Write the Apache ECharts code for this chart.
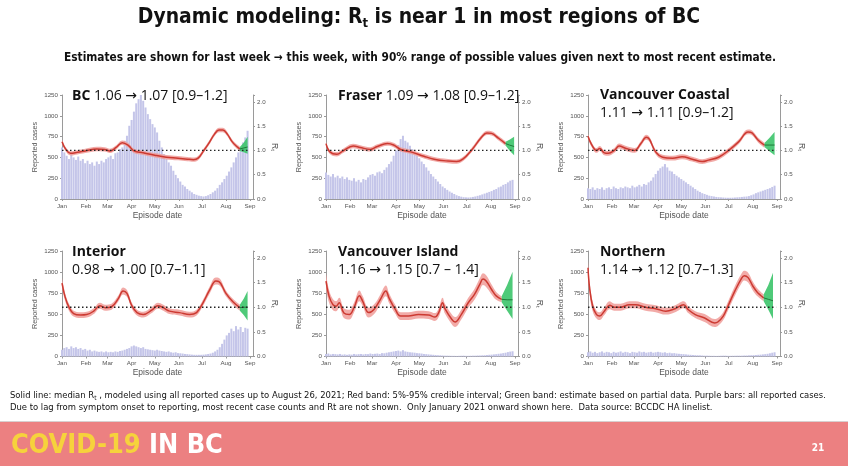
<!DOCTYPE html>
<html><head><meta charset="utf-8">
<script src="https://cdn.jsdelivr.net/npm/echarts@6/dist/echarts.min.js"></script>
<style>html,body{margin:0;padding:0;background:#fff}#c{width:848px;height:466px}</style>
</head><body><div id="c"></div>
<script>
// ---------------- DATA ----------------
const monthStarts = [0, 31, 59, 90, 120, 151, 181, 212, 243];
const monthLabels = ['Jan', 'Feb', 'Mar', 'Apr', 'May', 'Jun', 'Jul', 'Aug', 'Sep'];
const barDays = Array.from({length: 81}, (_, k) => k * 3); // bar positions (days since Jan 1, 2021)

const regionNames = ['BC', 'Fraser', 'Vancouver Coastal', 'Interior', 'Vancouver Island', 'Northern'];
const regionEstimates = ['1.06 → 1.07 [0.9–1.2]', '1.09 → 1.08 [0.9–1.2]', '1.11 → 1.11 [0.9–1.2]',
  '0.98 → 1.00 [0.7–1.1]', '1.16 → 1.15 [0.7 – 1.4]', '1.14 → 1.12 [0.7–1.3]'];

const bcCases = [620,560,520,480,540,500,470,510,460,480,430,460,420,440,400,450,420,460,440,480,500,520,480,550,560,600,620,700,760,880,950,1050,1150,1200,1250,1180,1100,1020,960,900,860,800,700,620,540,480,440,400,340,290,250,210,170,150,120,100,80,60,50,40,35,30,35,45,60,80,100,130,170,200,240,280,330,380,440,500,560,620,680,740,820];
const fraserCases = [320,290,270,300,260,280,250,270,240,260,230,220,250,210,230,200,240,230,260,290,300,280,320,330,310,350,380,420,450,520,580,650,720,760,700,680,640,600,560,520,490,450,420,380,340,300,270,240,210,180,150,130,110,90,75,60,45,35,28,22,20,18,20,25,30,38,45,55,65,75,85,95,110,120,140,150,170,180,200,220,230];
const vchCases = [130,120,140,110,130,120,140,110,130,140,120,150,130,120,140,130,150,140,130,160,140,150,170,150,180,170,200,220,260,300,340,370,390,420,380,340,330,300,280,260,240,220,200,180,160,140,120,100,85,70,60,50,40,35,30,25,22,20,18,16,15,15,16,18,20,22,25,28,30,35,45,55,70,80,90,100,110,120,130,145,160];
const interiorCases = [80,100,110,90,120,100,110,90,100,80,90,70,80,60,70,60,55,60,50,60,50,55,50,60,55,65,70,80,90,100,120,130,120,110,100,110,90,85,80,75,70,80,70,65,60,55,60,50,45,50,40,38,35,30,28,25,22,20,20,20,20,22,25,30,35,45,60,80,110,150,200,250,280,330,300,360,320,350,290,340,330];
const islandCases = [30,35,25,30,28,25,30,22,25,20,25,22,30,25,28,30,25,30,28,35,30,32,35,30,40,38,45,50,55,60,65,70,60,75,60,55,50,48,45,40,38,35,30,28,25,22,20,18,15,14,12,10,10,9,8,8,7,8,9,10,8,8,9,10,10,12,12,14,15,18,20,22,25,28,32,35,40,45,52,58,62];
const northernCases = [50,60,45,55,40,50,60,45,55,50,40,55,45,50,60,45,55,50,40,55,50,45,60,50,55,45,50,55,45,50,55,50,45,50,40,45,38,40,35,32,30,28,25,22,20,18,16,15,14,12,10,10,9,8,8,7,8,9,10,10,8,8,9,9,10,10,10,12,12,14,15,16,18,20,22,25,28,32,38,45,50];

// Rt median (red) knots: day, median, half width of 5-95% band
const bcRtDays = [0,5,11,20,30,45,55,62,70,78,86,93,105,120,135,150,162,170,176,183,190,197,203,208,214,220,226,230];
const bcRtMid = [1.18,1.02,0.94,0.96,0.99,1.03,1.02,0.99,1.06,1.16,1.10,0.99,0.95,0.90,0.86,0.84,0.82,0.81,0.84,0.99,1.15,1.33,1.42,1.42,1.33,1.18,1.08,1.03];
const bcRtHalf = 0.045;
const fraserRtDays = [0,5,14,22,35,44,57,66,79,87,96,109,126,139,157,168,176,187,200,207,213,222,231];
const fraserRtMid = [1.14,0.97,0.92,0.99,1.09,1.06,1.02,1.08,1.14,1.11,1.02,0.97,0.88,0.82,0.78,0.77,0.82,1.0,1.27,1.36,1.35,1.25,1.14];
const fraserRtHalf = 0.045;
const vchRtDays = [0,4,11,15,21,26,34,40,49,60,68,75,79,87,96,109,121,134,147,155,168,181,194,206,211,219,227];
const vchRtMid = [1.29,1.14,1.0,1.04,0.95,0.94,1.0,1.09,1.04,1.0,1.14,1.27,1.23,0.97,0.86,0.84,0.87,0.82,0.77,0.80,0.86,1.0,1.18,1.38,1.36,1.21,1.11];
const vchRtHalf = 0.05;
const interiorRtDays = [0,4,9,15,24,32,41,49,56,64,73,79,84,90,97,105,116,124,131,139,152,165,174,182,191,199,203,212,221,230];
const interiorRtMid = [1.49,1.21,1.0,0.87,0.84,0.85,0.92,1.03,0.99,1.01,1.18,1.33,1.28,1.04,0.89,0.85,0.94,1.03,0.99,0.92,0.89,0.85,0.89,1.08,1.35,1.53,1.52,1.28,1.11,0.99];
const interiorRtHalf = [0.1,0.08,0.07,0.06,0.06,0.06,0.06,0.06,0.06,0.06,0.06,0.07,0.07,0.06,0.06,0.06,0.06,0.06,0.06,0.06,0.06,0.06,0.06,0.06,0.07,0.07,0.07,0.06,0.06,0.06];
const islandRtDays = [0,4,9,13,17,23,30,36,43,47,55,62,70,77,81,89,96,106,119,132,140,145,150,153,162,166,174,183,191,198,202,206,213,219,226];
const islandRtMid = [1.53,1.22,1.05,1.02,1.09,0.88,0.85,0.99,1.23,1.13,0.89,0.96,1.16,1.33,1.19,0.96,0.82,0.82,0.85,0.84,0.80,0.89,1.09,0.97,0.75,0.70,0.85,1.09,1.26,1.47,1.57,1.53,1.36,1.23,1.16];
const islandRtHalf = [0.16,0.13,0.11,0.1,0.1,0.1,0.1,0.1,0.11,0.1,0.1,0.1,0.1,0.11,0.1,0.09,0.08,0.08,0.08,0.08,0.08,0.09,0.1,0.1,0.1,0.1,0.1,0.1,0.11,0.12,0.12,0.12,0.1,0.08,0.06];
const northernRtDays = [0,2,6,11,15,21,28,34,42,53,61,74,87,100,112,123,129,138,150,163,167,174,180,189,197,201,206,212,218,226];
const northernRtMid = [1.8,1.4,1.02,0.85,0.82,0.92,1.04,1.0,1.0,1.05,1.05,1.0,0.97,0.92,0.97,1.05,0.95,0.85,0.78,0.68,0.70,0.82,1.02,1.33,1.57,1.64,1.60,1.43,1.30,1.19];
const northernRtHalf = [0.16,0.13,0.1,0.08,0.08,0.08,0.08,0.07,0.07,0.07,0.07,0.07,0.07,0.07,0.07,0.07,0.07,0.07,0.08,0.08,0.08,0.08,0.09,0.1,0.1,0.1,0.1,0.09,0.08,0.07];

// Green band (estimate based on partial data): day, median, low, high
const bcGreenDays = [230,235,240], bcGreenMid = [1.03,1.05,1.07], bcGreenLo = [0.99,0.96,0.93], bcGreenHi = [1.07,1.16,1.28];
const fraserGreenDays = [231,236,242], fraserGreenMid = [1.14,1.11,1.08], fraserGreenLo = [1.10,1.0,0.9], fraserGreenHi = [1.18,1.22,1.28];
const vchGreenDays = [227,233,240], vchGreenMid = [1.11,1.11,1.11], vchGreenLo = [1.07,0.99,0.9], vchGreenHi = [1.15,1.25,1.38];
const interiorGreenDays = [230,235,240], interiorGreenMid = [0.99,1.0,1.0], interiorGreenLo = [0.93,0.84,0.73], interiorGreenHi = [1.05,1.17,1.33];
const islandGreenDays = [226,233,240], islandGreenMid = [1.16,1.15,1.15], islandGreenLo = [1.10,0.93,0.76], islandGreenHi = [1.22,1.45,1.72];
const northernGreenDays = [226,232,238], northernGreenMid = [1.19,1.16,1.13], northernGreenLo = [1.12,0.95,0.76], northernGreenHi = [1.26,1.45,1.70];

const caseAxisMax = 1250, caseAxisStep = 250;
const rtAxisMax = 2.14, rtAxisStep = 0.5, rtThreshold = 1.0, thresholdEndDay = 242, axisEndDay = 247;

const titleText = 'Dynamic modeling: R{s|t} is near 1 in most regions of BC';
const subtitleText = 'Estimates are shown for last week → this week, with 90% range of possible values given next to most recent estimate.';
const noteLine1 = 'Solid line: median R{s|t} , modeled using all reported cases up to August 26, 2021; Red band: 5%-95% credible interval; Green band: estimate based on partial data. Purple bars: all reported cases.';
const noteLine2 = 'Due to lag from symptom onset to reporting, most recent case counts and Rt are not shown.  Only January 2021 onward shown here.  Data source: BCCDC HA linelist.';
const footerText1 = 'COVID-19', footerText2 = ' IN BC', pageNumber = '21';

// ---------------- LAYOUT / STYLE ----------------
const layout = [
  {left: 62, top: 95, width: 191, height: 104},
  {left: 326, top: 95, width: 192, height: 104},
  {left: 588, top: 95, width: 192, height: 104},
  {left: 62, top: 251, width: 191, height: 105.5},
  {left: 326, top: 251, width: 192, height: 105.5},
  {left: 588, top: 251, width: 192, height: 105.5}
];
const titlePos = [[72, 96], [338, 96], [600, 104], [72, 261.5], [338, 261.5], [600, 261.5]];

const ctx = document.createElement('canvas').getContext('2d');
function hasFont(f) {
  const s = 'abcdefghijklmnopqrstuvwxyz ABCDEFGHIJ 0123456789';
  ctx.font = '40px monospace'; const a = ctx.measureText(s).width;
  ctx.font = '40px "' + f + '", monospace'; const b = ctx.measureText(s).width;
  return Math.abs(a - b) > 0.5;
}
const NARROW = ['Liberation Sans Narrow', 'DejaVu Sans Condensed'].find(hasFont) || 'Open Sans';
function fit(text, weight, family, width) {
  ctx.font = weight + ' 100px "' + family + '"';
  return 100 * width / ctx.measureText(text.replace(/\{s\|t\}/g, 't')).width;
}
const AX = '"Liberation Sans", Arial, sans-serif';
const PF = '"Open Sans", "DejaVu Sans", sans-serif';
const NF = '"' + NARROW + '", "Open Sans", sans-serif';

const regions = [
  {cases: bcCases, d: bcRtDays, m: bcRtMid, h: bcRtHalf, gd: bcGreenDays, gm: bcGreenMid, gl: bcGreenLo, gh: bcGreenHi},
  {cases: fraserCases, d: fraserRtDays, m: fraserRtMid, h: fraserRtHalf, gd: fraserGreenDays, gm: fraserGreenMid, gl: fraserGreenLo, gh: fraserGreenHi},
  {cases: vchCases, d: vchRtDays, m: vchRtMid, h: vchRtHalf, gd: vchGreenDays, gm: vchGreenMid, gl: vchGreenLo, gh: vchGreenHi},
  {cases: interiorCases, d: interiorRtDays, m: interiorRtMid, h: interiorRtHalf, gd: interiorGreenDays, gm: interiorGreenMid, gl: interiorGreenLo, gh: interiorGreenHi},
  {cases: islandCases, d: islandRtDays, m: islandRtMid, h: islandRtHalf, gd: islandGreenDays, gm: islandGreenMid, gl: islandGreenLo, gh: islandGreenHi},
  {cases: northernCases, d: northernRtDays, m: northernRtMid, h: northernRtHalf, gd: northernGreenDays, gm: northernGreenMid, gl: northernGreenLo, gh: northernGreenHi}
];

const axisLineColor = '#9a9a9a', axisTextColor = '#555';
const xAxes = [], yAxes = [], series = [], grids = [];
const SM = 0.4;
// line data is given as [value, day] with encode {x:1, y:0} so stacking runs on the Rt (y) dimension
const ENC = {x: 1, y: 0};

function band(i, days, lo, hi, smooth, color, opacity, z, id) {
  return [
    {type: 'line', xAxisIndex: i, yAxisIndex: 2 * i + 1, stack: id, encode: ENC, data: days.map((d, k) => [lo[k], d]),
     smooth, symbol: 'none', lineStyle: {width: 0, opacity: 0}, silent: true, z},
    {type: 'line', xAxisIndex: i, yAxisIndex: 2 * i + 1, stack: id, encode: ENC, data: days.map((d, k) => [hi[k] - lo[k], d]),
     smooth, symbol: 'none', lineStyle: {width: 0, opacity: 0}, areaStyle: {color, opacity}, silent: true, z}
  ];
}

regions.forEach((R, i) => {
  const g = layout[i];
  grids.push({left: g.left, top: g.top, width: g.width, height: g.height, containLabel: false, outerBoundsMode: 'none'});
  xAxes.push({
    type: 'value', gridIndex: i, min: 0, max: axisEndDay,
    axisLine: {show: true, lineStyle: {color: axisLineColor, width: 1}},
    axisTick: {show: true, customValues: monthStarts, length: 2, lineStyle: {color: axisLineColor}},
    axisLabel: {customValues: monthStarts, formatter: v => monthLabels[monthStarts.indexOf(Math.round(v))] || '',
      fontSize: 6.2, color: axisTextColor, margin: 4, fontFamily: AX},
    splitLine: {show: false},
    name: 'Episode date', nameLocation: 'middle', nameGap: 12,
    nameTextStyle: {fontSize: 8.5, color: axisTextColor, fontFamily: AX}
  });
  yAxes.push({
    type: 'value', gridIndex: i, min: 0, max: caseAxisMax, interval: caseAxisStep, position: 'left',
    axisLine: {show: true, lineStyle: {color: axisLineColor, width: 1}},
    axisTick: {show: true, length: 2, lineStyle: {color: axisLineColor}},
    axisLabel: {fontSize: 6.2, color: axisTextColor, margin: 4, fontFamily: AX, formatter: v => String(v)},
    splitLine: {show: false},
    name: 'Reported cases', nameLocation: 'middle', nameGap: 23,
    nameTextStyle: {fontSize: 7.2, color: axisTextColor, fontFamily: AX}
  });
  yAxes.push({
    type: 'value', gridIndex: i, min: 0, max: rtAxisMax, interval: rtAxisStep, position: 'right',
    axisLine: {show: true, lineStyle: {color: axisLineColor, width: 1}},
    axisTick: {show: true, length: 2, lineStyle: {color: axisLineColor}},
    axisLabel: {fontSize: 6.2, color: axisTextColor, margin: 4, fontFamily: AX,
      formatter: v => v > 2.001 ? '' : v.toFixed(1)},
    splitLine: {show: false},
    name: '{a|R}{b|t}', nameLocation: 'middle', nameGap: 15, nameRotate: -90,
    nameTextStyle: {color: axisTextColor, rich: {a: {fontSize: 8.5, fontFamily: AX, color: axisTextColor},
      b: {fontSize: 6, fontFamily: AX, color: axisTextColor, padding: [4, 0, 0, 0]}}}
  });

  series.push({type: 'bar', xAxisIndex: i, yAxisIndex: 2 * i, barWidth: 2,
    data: barDays.map((d, k) => [d, R.cases[k]]),
    itemStyle: {color: '#c4c5e9'}, silent: true, z: 1});

  const half = k => Array.isArray(R.h) ? R.h[k] : R.h;
  const lo = R.m.map((v, k) => v - half(k)), hi = R.m.map((v, k) => v + half(k));
  series.push(...band(i, R.d, lo, hi, SM, '#f09c99', 0.85, 3, 'red' + i));
  series.push({type: 'line', xAxisIndex: i, yAxisIndex: 2 * i + 1, encode: ENC, data: R.d.map((d, k) => [R.m[k], d]),
    smooth: SM, symbol: 'none', lineStyle: {color: '#cc3a32', width: 1.5}, silent: true, z: 4});

  series.push(...band(i, R.gd, R.gl, R.gh, false, '#3cc46a', 0.9, 3, 'green' + i));
  series.push({type: 'line', xAxisIndex: i, yAxisIndex: 2 * i + 1, encode: ENC, data: R.gd.map((d, k) => [R.gm[k], d]),
    smooth: false, symbol: 'none', lineStyle: {color: '#1f7a3a', width: 1}, silent: true, z: 4});

  series.push({type: 'line', xAxisIndex: i, yAxisIndex: 2 * i + 1, encode: ENC,
    data: [[rtThreshold, 0], [rtThreshold, thresholdEndDay]],
    symbol: 'none', lineStyle: {color: '#222', width: 1.4, type: [1.5, 2.5]}, silent: true, z: 6});
});

// ---------------- TEXT ----------------
const titleSize = fit(titleText, 'bold', NARROW, 566);
const subSize = fit(subtitleText, 'bold', NARROW, 712);
const noteSize = fit(noteLine1, 'normal', NARROW, 819);
const footSize = fit(footerText1 + footerText2, 'bold', NARROW, 212);

const graphic = [
  {type: 'rect', shape: {x: 0, y: 421, width: 848, height: 1.5}, style: {fill: '#d8cfcf'}, silent: true},
  {type: 'rect', shape: {x: 0, y: 422, width: 848, height: 44}, style: {fill: '#ec8081'}, silent: true},
  {type: 'text', x: 419, y: 18, silent: true, style: {text: titleText, fill: '#111', align: 'center', verticalAlign: 'middle',
    font: 'bold ' + titleSize.toFixed(1) + 'px ' + NF,
    rich: {s: {fontSize: titleSize * 0.62, fontWeight: 'bold', fontFamily: NARROW, fill: '#111', padding: [titleSize * 0.55, 0, 0, 0]}}}},
  {type: 'text', x: 420, y: 58, silent: true, style: {text: subtitleText, fill: '#111', align: 'center', verticalAlign: 'middle',
    font: 'bold ' + subSize.toFixed(2) + 'px ' + NF}},
  {type: 'text', x: 10, y: 396, silent: true, style: {text: noteLine1, fill: '#111', align: 'left', verticalAlign: 'middle',
    font: noteSize.toFixed(2) + 'px ' + NF,
    rich: {s: {fontSize: noteSize * 0.7, fontFamily: NARROW, fill: '#111', padding: [noteSize * 0.5, 0, 0, 0]}}}},
  {type: 'text', x: 10, y: 408, silent: true, style: {text: noteLine2, fill: '#111', align: 'left', verticalAlign: 'middle',
    font: noteSize.toFixed(2) + 'px ' + NF}},
  {type: 'text', x: 11, y: 446, silent: true, style: {text: '{y|' + footerText1 + '}{w|' + footerText2 + '}', align: 'left', verticalAlign: 'middle',
    font: 'bold ' + footSize.toFixed(1) + 'px ' + NF,
    rich: {y: {fill: '#f6d23c', fontSize: footSize, fontWeight: 'bold', fontFamily: NARROW},
           w: {fill: '#ffffff', fontSize: footSize, fontWeight: 'bold', fontFamily: NARROW}}}},
  {type: 'text', x: 818, y: 448, silent: true, style: {text: pageNumber, fill: '#fff', align: 'center', verticalAlign: 'middle',
    font: 'bold 10px ' + NF}}
];
regions.forEach((R, i) => {
  const twoLine = i >= 2;
  const txt = '{b|' + regionNames[i] + '}' + (twoLine ? '\n' : ' ') + regionEstimates[i];
  graphic.push({type: 'text', x: titlePos[i][0], y: titlePos[i][1], silent: true, z: 100,
    style: {text: txt, fill: '#111', align: 'left', verticalAlign: 'middle', font: '14px ' + PF, lineHeight: 18,
      rich: {b: {fontWeight: 'bold', fontSize: 14, fontFamily: 'Open Sans', fill: '#111', lineHeight: 18}}}});
});

const chart = echarts.init(document.getElementById('c'), null, {renderer: 'canvas'});
chart.setOption({
  animation: false, backgroundColor: '#fff',
  textStyle: {fontFamily: AX},
  grid: grids, xAxis: xAxes, yAxis: yAxes, series, graphic
});
</script>
</body></html>
